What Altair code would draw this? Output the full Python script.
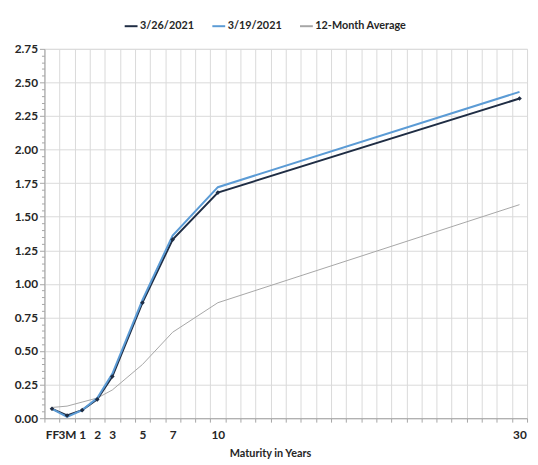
import altair as alt
import pandas as pd

# ---- data ----
maturities = ["FF", "3M", "1", "2", "3", "5", "7", "10", "30"]
series_names = ["3/26/2021", "3/19/2021", "12-Month Average"]
y_0326 = [0.07, 0.02, 0.06, 0.14, 0.31, 0.86, 1.33, 1.68, 2.38]
y_0319 = [0.07, 0.01, 0.06, 0.15, 0.33, 0.88, 1.36, 1.72, 2.43]
y_avg = [0.08, 0.09, 0.12, 0.15, 0.21, 0.40, 0.64, 0.86, 1.59]
colors = ["#1f2d44", "#5b9bd5", "#a6a6a6"]

# category slots: FF, 3M, then 1..30 years (32 slots)
def slot(m):
    if m == "FF":
        return 0
    if m == "3M":
        return 1
    return int(m) + 1

rows = []
for name, vals in zip(series_names, [y_0326, y_0319, y_avg]):
    for m, v in zip(maturities, vals):
        rows.append({"series": name, "maturity": m, "pos": slot(m), "yield": v})
df = pd.DataFrame(rows)

n_slots = 32
x_ticks = [i - 0.5 for i in range(n_slots + 1)]
label_expr = ""
for m in maturities:
    label_expr += f"datum.value == {slot(m) - 0.5} ? '{m}' : "
label_expr += "''"

y_ticks = [round(i * 0.05, 2) for i in range(56)]
major = "abs(datum.value*4 - round(datum.value*4)) < 0.001"

FONT = "Lato"

x_enc = alt.X(
    "pos:Q",
    scale=alt.Scale(domain=[-0.5, n_slots - 0.5], nice=False, zero=False),
    axis=alt.Axis(
        values=x_ticks,
        labelExpr=label_expr,
        labelOffset=7.6,
        labelFont=FONT, labelFontSize=12, labelFontWeight="bold", labelColor="#262626",
        labelPadding=8, labelOverlap=False, labelFlush=False,
        tickSize=4, tickColor="#a6a6a6", domainColor="#a6a6a6",
        gridColor="#d9d9d9",
        title="Maturity in Years", titleFont=FONT, titleFontSize=11, titleFontWeight="bold",
        titleColor="#262626", titlePadding=7, titleX=229,
    ),
)
y_enc = alt.Y(
    "yield:Q",
    scale=alt.Scale(domain=[0, 2.75], nice=False, zero=True),
    axis=alt.Axis(
        values=y_ticks,
        labelExpr=f"{major} ? format(datum.value, '.2f') : ''",
        labelFont=FONT, labelFontSize=12, labelFontWeight="bold", labelColor="#262626",
        labelPadding=2, labelOverlap=False,
        tickSize={"condition": {"test": major, "value": 5}, "value": 3},
        tickColor="#a6a6a6", domainColor="#a6a6a6",
        gridColor="#d9d9d9",
        gridOpacity={"condition": {"test": major, "value": 1}, "value": 0},
        title=None,
    ),
)
color_enc = alt.Color(
    "series:N",
    scale=alt.Scale(domain=series_names, range=colors),
    legend=alt.Legend(
        title=None, orient="none", legendX=80, legendY=-31, direction="horizontal",
        symbolType="stroke", symbolSize=170, symbolStrokeWidth=2,
        labelFont=FONT, labelFontSize=11, labelFontWeight="bold", labelColor="#262626",
        columnPadding=14, symbolOffset=0, labelOffset=1,
    ),
)

base = alt.Chart(df)
avg = base.transform_filter(alt.datum.series == "12-Month Average").mark_line(strokeWidth=1).encode(
    x=x_enc, y=y_enc, color=color_enc)
l26 = base.transform_filter(alt.datum.series == "3/26/2021").mark_line(strokeWidth=2).encode(
    x=x_enc, y=y_enc, color=color_enc)
l19 = base.transform_filter(alt.datum.series == "3/19/2021").mark_line(strokeWidth=2).encode(
    x=x_enc, y=y_enc, color=color_enc)
pts = base.transform_filter(alt.datum.series == "3/26/2021").mark_point(
    shape="diamond", filled=True, size=22, opacity=1).encode(
    x=x_enc, y=y_enc, color=color_enc)

chart = alt.layer(avg, l26, l19, pts).properties(
    width=490, height=375,
    autosize=alt.AutoSizeParams(type="none"),
    padding={"left": 37, "top": 38, "right": 3, "bottom": 42},
).configure_view(stroke=None).configure(background="white")

chart.save("out.html", embed_options={"renderer": "svg", "actions": False})
